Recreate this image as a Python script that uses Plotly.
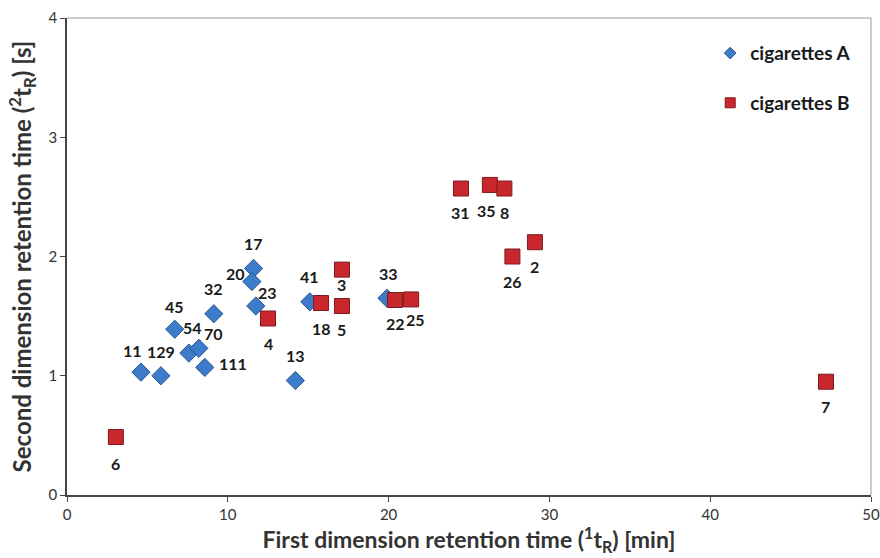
import plotly.graph_objects as go

# cigarettes A
a_labels = ["11", "129", "45", "54", "70", "32", "111", "17", "20", "23", "41", "13", "33"]
a_x = [4.6, 5.84, 6.7, 7.58, 8.2, 9.13, 8.57, 11.6, 11.5, 11.74, 15.1, 14.2, 19.9]
a_y = [1.03, 1.0, 1.39, 1.19, 1.23, 1.52, 1.07, 1.90, 1.79, 1.585, 1.62, 0.96, 1.65]

# cigarettes B
b_labels = ["6", "4", "3", "18", "5", "22", "25", "31", "35", "8", "26", "2", "7"]
b_x = [3.04, 12.5, 17.1, 15.8, 17.1, 20.4, 21.4, 24.5, 26.3, 27.2, 27.7, 29.1, 47.2]
b_y = [0.486, 1.48, 1.89, 1.61, 1.585, 1.635, 1.64, 2.57, 2.60, 2.57, 2.0, 2.12, 0.95]

x_ticks = [0, 10, 20, 30, 40, 50]
y_ticks = [0, 1, 2, 3, 4]

# label offsets in pixels (dx right, dy up)
offsets = {
    "11": (-8, 22), "129": (0, 24), "45": (0, 23), "54": (4, 26), "70": (15, 15),
    "32": (0, 25), "111": (28, 4), "17": (0, 25), "20": (-16, 8), "23": (12, 13),
    "41": (0, 25), "13": (0, 25), "33": (2, 25),
    "6": (0, -26), "4": (0, -25), "3": (0, -15), "18": (0, -25), "5": (0, -24),
    "22": (0, -23), "25": (4, -20), "31": (0, -24), "35": (-3, -26), "8": (0, -24),
    "26": (0, -25), "2": (0, -24), "7": (0, -25),
}

FONT = "Lato"
BLUE, BLUE_EDGE = "#3D7CCB", "#27558F"
RED, RED_EDGE = "#C8282D", "#7E1A1D"

fig = go.Figure()
fig.add_trace(go.Scatter(
    x=a_x, y=a_y, mode="markers", name="cigarettes A", showlegend=False,
    marker=dict(symbol="diamond", size=14, color=BLUE, line=dict(color=BLUE_EDGE, width=1)),
))
fig.add_trace(go.Scatter(
    x=b_x, y=b_y, mode="markers", name="cigarettes B", showlegend=False,
    marker=dict(symbol="square", size=15, color=RED, line=dict(color=RED_EDGE, width=1)),
))
# legend entries (smaller symbols, as in the reference)
fig.add_trace(go.Scatter(
    x=[None], y=[None], mode="markers", name="cigarettes A", legendgroup="a",
    marker=dict(symbol="diamond", size=9, color=BLUE, line=dict(color=BLUE_EDGE, width=1)),
))
fig.add_trace(go.Scatter(
    x=[None], y=[None], mode="markers", name="cigarettes B", legendgroup="b",
    marker=dict(symbol="square", size=10, color=RED, line=dict(color=RED_EDGE, width=1)),
))

for labs, xs, ys in ((a_labels, a_x, a_y), (b_labels, b_x, b_y)):
    for lab, xv, yv in zip(labs, xs, ys):
        dx, dy = offsets[lab]
        fig.add_annotation(x=xv, y=yv, text=f"<b>{lab}</b>", showarrow=False,
                           xshift=dx, yshift=dy,
                           font=dict(family=FONT, size=16, color="#1a1a1a"))

fig.update_layout(
    width=880, height=558,
    margin=dict(l=67, r=9, t=18, b=63, autoexpand=False),
    paper_bgcolor="white", plot_bgcolor="white",
    font=dict(family=FONT, size=14, color="#333333"),
    showlegend=True,
    legend=dict(x=0.80, y=0.966, xanchor="left", yanchor="top",
                font=dict(family=FONT, size=19, color="#1a1a1a", weight="bold"),
                tracegroupgap=22, bgcolor="rgba(0,0,0,0)", itemwidth=30),
    xaxis=dict(range=[0, 50], tickvals=x_ticks, showgrid=False, zeroline=False,
               automargin=False,
               showline=True, linecolor="#444444", linewidth=1.5, mirror=False,
               ticks="outside", ticklen=5, tickcolor="#444444",
               tickfont=dict(family=FONT, size=15, color="#333333"),
               title=dict(text="<b>First dimension retention time (<sup>1</sup>t<sub>R</sub>) [min]</b>",
                          font=dict(family=FONT, size=23, color="#333333"), standoff=4)),
    yaxis=dict(range=[0, 4], tickvals=y_ticks, showgrid=False, zeroline=False,
               automargin=False,
               showline=True, linecolor="#444444", linewidth=1.5,
               ticks="outside", ticklen=5, tickcolor="#444444",
               tickfont=dict(family=FONT, size=15, color="#333333"),
               title=dict(text="<b>Second dimension retention time (<sup>2</sup>t<sub>R</sub>) [s]</b>",
                          font=dict(family=FONT, size=24, color="#333333"), standoff=10)),
)

# light frame on top and right
fig.add_shape(type="line", xref="paper", yref="paper", x0=0, x1=1, y0=1, y1=1,
              line=dict(color="#9a9a9a", width=1))
fig.add_shape(type="line", xref="paper", yref="paper", x0=1, x1=1, y0=0, y1=1,
              line=dict(color="#9a9a9a", width=1))

fig.write_html("out.html")
